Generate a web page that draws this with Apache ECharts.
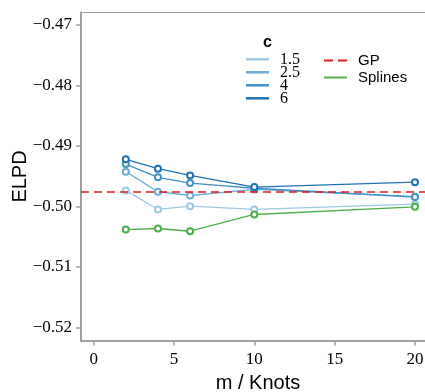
<!DOCTYPE html>
<html><head><meta charset="utf-8">
<script src="https://cdn.jsdelivr.net/npm/echarts@6/dist/echarts.min.js"></script>
<style>html,body{margin:0;padding:0;background:#fff}#c{width:425px;height:392px}</style>
</head><body><div id="c"></div>
<script>
const xs = [2, 4, 6, 10, 20];
const c15 = [-0.49736, -0.50051, -0.49997, -0.50051, -0.49963];
const c25 = [-0.49426, -0.49758, -0.49820, -0.49720, -0.49840];
const c4  = [-0.49300, -0.49520, -0.49615, -0.49700, -0.49845];
const c6  = [-0.49222, -0.49377, -0.49488, -0.49680, -0.49600];
const splines = [-0.50383, -0.50366, -0.50411, -0.50134, -0.50007];
const gp = -0.49757;
const cLabels = ['1.5', '2.5', '4', '6'];
const xTicks = [0, 5, 10, 15, 20];
const yTicks = [-0.52, -0.51, -0.50, -0.49, -0.48, -0.47];

const blues = ['#9ecae1', '#6baed6', '#4292c6', '#2171b5'];
const green = '#4daf4a';
const red = '#e41a1c';
const gray = '#a0a0a0';

function pts(ys){ return xs.map((x,i)=>[x, ys[i]]); }
function lineSeries(name, ys, color){
  return {name, type:'line', data: pts(ys), symbol:'emptyCircle', symbolSize:6,
    lineStyle:{color, width:1.3}, itemStyle:{color, borderWidth:1.5}, z:3};
}
const chart = echarts.init(document.getElementById('c'), null, {renderer:'canvas'});
const serif = '"Liberation Serif", "Times New Roman", serif';
const sans = '"Liberation Sans", Arial, sans-serif';
chart.setOption({
  animation:false,
  grid:{left:81, right:-10, top:12.5, bottom:51.5, show:true, borderColor:gray, borderWidth:1,
    containLabel:false, outerBoundsMode:'none'},
  xAxis:{type:'value', min:-0.79, max:21.245,
    axisLine:{show:true, onZero:false, lineStyle:{color:gray, width:2}},
    axisTick:{show:true, length:5, lineStyle:{color:gray, width:1.5}, customValues:xTicks},
    axisLabel:{customValues:xTicks, color:'#000', fontFamily:serif, fontSize:17, margin:11},
    splitLine:{show:false},
    name:'m / Knots', nameLocation:'middle', nameGap:33, nameMoveOverlap:false,
    nameTextStyle:{fontFamily:sans, fontSize:20, color:'#000'}},
  yAxis:{type:'value', min:-0.522183, max:-0.467933,
    axisLine:{show:true, onZero:false, lineStyle:{color:gray, width:2}},
    axisTick:{show:true, length:5, lineStyle:{color:gray, width:1.5}, customValues:yTicks},
    axisLabel:{customValues:yTicks, color:'#000', fontFamily:serif, fontSize:17, margin:9,
      padding:[3,0,0,0],
      formatter:v=>v.toFixed(2).replace('-', '\u2212')},
    splitLine:{show:false},
    name:'ELPD', nameLocation:'middle', nameGap:51, nameMoveOverlap:false,
    nameTextStyle:{fontFamily:sans, fontSize:20, color:'#000'}},
  legend:[
    {data:cLabels, orient:'vertical', left:246, top:51.3, padding:0, itemWidth:23, itemHeight:2.5, itemGap:-3,
      icon:'rect', textStyle:{fontFamily:serif, fontSize:16, color:'#000', padding:[0,0,0,6]}},
    {data:[{name:'GP', icon:'path://M0,0H9V2H0Z M14,0H23V2H14Z'}, {name:'Splines', icon:'rect'}],
      orient:'vertical', left:324, top:52, padding:0, itemWidth:23, itemHeight:2, itemGap:0,
      textStyle:{fontFamily:sans, fontSize:15, lineHeight:17, color:'#000', padding:[0,0,0,6]}}
  ],
  graphic:[{type:'text', left:263, top:35, style:{text:'c', font:'bold 16px "Liberation Sans"', fill:'#000'}}],
  series:[
    lineSeries('1.5', c15, blues[0]),
    lineSeries('2.5', c25, blues[1]),
    lineSeries('4', c4, blues[2]),
    lineSeries('6', c6, blues[3]),
    {name:'GP', type:'line', data:[], itemStyle:{color:red}, lineStyle:{color:red},
      markLine:{silent:true, symbol:'none', precision:6, label:{show:false},
        lineStyle:{color:red, width:1.5, type:[8,5]}, data:[{yAxis:gp}]}},
    lineSeries('Splines', splines, green)
  ]
});
</script></body></html>
